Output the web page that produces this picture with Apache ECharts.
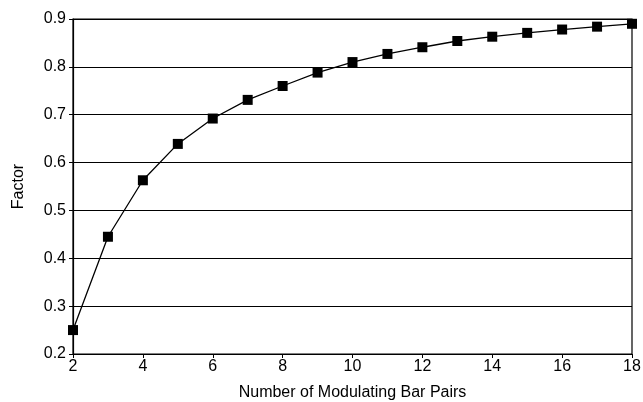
<!DOCTYPE html>
<html>
<head>
<meta charset="utf-8">
<script src="https://cdn.jsdelivr.net/npm/echarts@6/dist/echarts.min.js"></script>
<style>
  html, body { margin: 0; padding: 0; background: #fff; }
  #chart { width: 643px; height: 402px; }
</style>
</head>
<body>
<div id="chart"></div>
<script>
// bar pairs on x, factor on y
var pairs = [2, 3, 4, 5, 6, 7, 8, 9, 10, 11, 12, 13, 14, 15, 16, 17, 18];
var factor = [0.25, 0.445, 0.563, 0.639, 0.692, 0.731, 0.760, 0.788, 0.81, 0.827, 0.841, 0.854, 0.863, 0.871, 0.878, 0.884, 0.89];

var chart = echarts.init(document.getElementById('chart'));
var font = 'Liberation Sans, Arial, sans-serif';
var option = {
    backgroundColor: '#ffffff',
    animation: false,
    grid: {
        left: 73,
        right: 11,
        top: 19,
        bottom: 48,
        outerBoundsMode: 'none',
        containLabel: false,
        show: true,
        borderColor: '#000',
        borderWidth: 1.2
    },
    xAxis: {
        type: 'value',
        min: 2,
        max: 18,
        interval: 2,
        name: 'Number of Modulating Bar Pairs',
        nameLocation: 'middle',
        nameGap: 31,
        nameTextStyle: {color: '#000', fontSize: 16, fontFamily: font},
        axisLine: {lineStyle: {color: '#000', width: 1.2}},
        axisTick: {show: true, length: 4, lineStyle: {color: '#000'}},
        axisLabel: {color: '#000', fontSize: 16, fontFamily: font, margin: 5},
        splitLine: {show: false}
    },
    yAxis: {
        type: 'value',
        min: 0.2,
        max: 0.9,
        interval: 0.1,
        name: 'Factor',
        nameLocation: 'middle',
        nameGap: 46,
        nameTextStyle: {color: '#000', fontSize: 16, fontFamily: font},
        axisLine: {show: true, lineStyle: {color: '#000', width: 1.2}},
        axisTick: {show: true, length: 4, lineStyle: {color: '#000'}},
        axisLabel: {
            color: '#000', fontSize: 16, fontFamily: font, margin: 7,
            formatter: function (v) { return v.toFixed(1); }
        },
        splitLine: {show: true, lineStyle: {color: '#000', width: 1.2}}
    },
    series: [{
        type: 'line',
        data: pairs.map(function (p, i) { return [p, factor[i]]; }),
        symbol: 'rect',
        symbolSize: 10,
        showAllSymbol: true,
        lineStyle: {color: '#000', width: 1.3},
        itemStyle: {color: '#000'}
    }]
};
chart.setOption(option);
</script>
</body>
</html>
